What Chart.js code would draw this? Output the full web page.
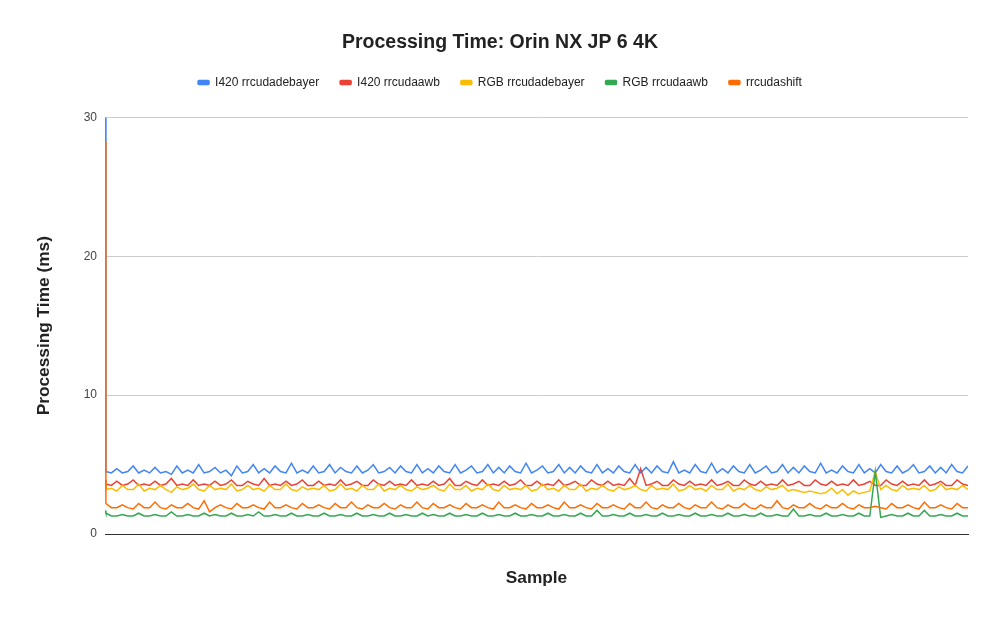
<!DOCTYPE html>
<html>
<head>
<meta charset="utf-8">
<script src="https://cdn.jsdelivr.net/npm/chart.js@4"></script>
<style>
  html, body { margin: 0; padding: 0; background: #fff; }
  #wrap { width: 1000px; height: 619px; }
</style>
</head>
<body>
<div id="wrap"><canvas id="chart" width="1000" height="619"></canvas></div>
<script>
const seriesNames = ["I420 rrcudadebayer", "I420 rrcudaawb", "RGB rrcudadebayer", "RGB rrcudaawb", "rrcudashift"];
const seriesColors = ["#4285F4", "#EA4335", "#FBBC04", "#34A853", "#FF6D01"];
const yTicks = [0, 10, 20, 30];

const i420Debayer = [
  30, 4.5, 4.4, 4.7, 4.4, 4.5, 4.9, 4.4, 4.6, 4.4, 4.8, 4.4, 4.5, 4.3, 4.9, 4.4, 4.6, 4.4, 5.0, 4.4,
  4.5, 4.8, 4.4, 4.6, 4.2, 4.9, 4.4, 4.5, 5.0, 4.4, 4.7, 4.4, 4.9, 4.5, 4.4, 5.1, 4.4, 4.6, 4.4, 4.9,
  4.4, 4.5, 5.0, 4.4, 4.8, 4.5, 4.4, 4.9, 4.4, 4.6, 5.0, 4.4, 4.5, 4.8, 4.4, 4.9, 4.5, 4.4, 5.0, 4.4,
  4.7, 4.4, 4.9, 4.5, 4.4, 5.0, 4.4, 4.6, 4.9, 4.4, 4.5, 5.0, 4.4, 4.8, 4.4, 4.9, 4.5, 4.4, 5.1, 4.4,
  4.6, 4.9, 4.4, 4.5, 5.0, 4.4, 4.8, 4.4, 4.9, 4.5, 4.4, 5.0, 4.4, 4.7, 4.4, 4.9, 4.5, 4.4, 5.0, 4.4,
  4.8, 4.4, 4.9, 4.5, 4.4, 5.2, 4.4, 4.6, 4.4, 5.0, 4.5, 4.4, 5.1, 4.4, 4.7, 4.4, 4.9, 4.5, 4.4, 5.0,
  4.4, 4.6, 4.9, 4.4, 4.5, 5.0, 4.4, 4.8, 4.4, 4.9, 4.5, 4.4, 5.1, 4.4, 4.6, 4.4, 4.9, 4.5, 4.4, 5.0,
  4.4, 4.7, 4.4, 5.0, 4.5, 4.4, 4.9, 4.4, 4.6, 5.0, 4.4, 4.5, 4.9, 4.4, 4.8, 4.4, 5.0, 4.5, 4.4, 4.9
];
const i420Awb = [
  3.9, 3.6, 3.5, 3.8, 3.5, 3.6, 3.9, 3.5, 3.6, 3.5, 3.8, 3.5, 3.6, 4.0, 3.5, 3.6, 3.5, 3.9, 3.5, 3.6,
  3.5, 3.8, 3.5, 3.6, 3.9, 3.5, 3.5, 3.8, 3.6, 3.5, 4.0, 3.5, 3.6, 3.5, 3.8, 3.5, 3.6, 3.9, 3.5, 3.5,
  3.8, 3.5, 3.6, 3.5, 3.9, 3.5, 3.6, 3.8, 3.5, 3.5, 3.9, 3.6, 3.5, 3.8, 3.5, 3.6, 3.5, 3.9, 3.5, 3.6,
  3.5, 3.8, 3.5, 3.6, 4.0, 3.5, 3.5, 3.8, 3.6, 3.5, 3.9, 3.5, 3.6, 3.5, 3.8, 3.5, 3.6, 3.9, 3.5, 3.5,
  3.8, 3.5, 3.6, 3.5, 3.9, 3.5, 3.6, 3.8, 3.5, 3.5, 3.9, 3.6, 3.5, 3.8, 3.5, 3.6, 3.5, 4.0, 3.5, 4.7,
  3.5, 3.6, 3.8, 3.5, 3.5, 3.9, 3.6, 3.5, 3.8, 3.5, 3.6, 3.5, 3.9, 3.5, 3.6, 3.8, 3.5, 3.5, 3.9, 3.6,
  3.5, 3.8, 3.5, 3.6, 3.5, 3.9, 3.5, 3.6, 3.8, 3.5, 3.5, 3.9, 3.6, 3.5, 3.8, 3.5, 3.6, 3.5, 3.9, 3.5,
  3.6, 3.8, 3.5, 3.5, 3.9, 3.6, 3.5, 3.8, 3.5, 3.6, 3.5, 3.9, 3.5, 3.6, 3.8, 3.5, 3.5, 3.9, 3.6, 3.5
];
const rgbDebayer = [
  3.6, 3.2, 3.3, 3.1, 3.5, 3.2, 3.2, 3.6, 3.1, 3.3, 3.2, 3.5, 3.2, 3.0, 3.4, 3.2, 3.3, 3.6, 3.2, 3.1,
  3.5, 3.2, 3.3, 3.2, 3.6, 3.1, 3.2, 3.5, 3.2, 3.3, 3.1, 3.5, 3.2, 3.2, 3.6, 3.2, 3.1, 3.4, 3.2, 3.3,
  3.2, 3.5, 3.1, 3.2, 3.6, 3.2, 3.3, 3.1, 3.5, 3.2, 3.2, 3.6, 3.1, 3.3, 3.2, 3.5, 3.2, 3.1, 3.4, 3.2,
  3.3, 3.5, 3.2, 3.1, 3.6, 3.2, 3.2, 3.5, 3.1, 3.3, 3.2, 3.6, 3.2, 3.1, 3.5, 3.2, 3.3, 3.2, 3.5, 3.1,
  3.2, 3.6, 3.2, 3.3, 3.1, 3.5, 3.2, 3.2, 3.6, 3.1, 3.3, 3.2, 3.5, 3.2, 3.1, 3.4, 3.2, 3.3, 3.5, 3.2,
  3.1, 3.5, 3.2, 3.3, 3.2, 3.6, 3.1, 3.2, 3.5, 3.2, 3.3, 3.1, 3.5, 3.2, 3.2, 3.6, 3.1, 3.3, 3.2, 3.5,
  3.2, 3.1, 3.4, 3.2, 3.3, 3.5, 3.1, 3.2, 3.1, 3.0, 3.1, 3.0, 2.9, 3.0, 3.3, 2.9, 3.2, 2.8, 3.1, 2.9,
  3.0, 3.1, 4.5, 3.2, 3.5, 3.2, 3.1, 3.5, 3.2, 3.3, 3.2, 3.5, 3.1, 3.2, 3.6, 3.2, 3.3, 3.2, 3.5, 3.2
];
const rgbAwb = [
  1.7, 1.5, 1.3, 1.3, 1.4, 1.3, 1.3, 1.5, 1.3, 1.3, 1.4, 1.3, 1.3, 1.6, 1.3, 1.3, 1.4, 1.3, 1.3, 1.5,
  1.3, 1.4, 1.3, 1.3, 1.5, 1.3, 1.3, 1.4, 1.3, 1.6, 1.3, 1.3, 1.4, 1.3, 1.3, 1.5, 1.3, 1.3, 1.4, 1.3,
  1.3, 1.5, 1.3, 1.3, 1.4, 1.3, 1.3, 1.5, 1.3, 1.3, 1.4, 1.3, 1.3, 1.5, 1.3, 1.3, 1.4, 1.3, 1.3, 1.5,
  1.3, 1.4, 1.3, 1.3, 1.5, 1.3, 1.3, 1.4, 1.3, 1.3, 1.5, 1.3, 1.3, 1.4, 1.3, 1.3, 1.5, 1.3, 1.3, 1.4,
  1.3, 1.3, 1.5, 1.3, 1.3, 1.4, 1.3, 1.3, 1.5, 1.3, 1.3, 1.7, 1.3, 1.3, 1.4, 1.3, 1.3, 1.5, 1.3, 1.3,
  1.4, 1.3, 1.3, 1.5, 1.3, 1.3, 1.4, 1.3, 1.3, 1.5, 1.3, 1.3, 1.4, 1.3, 1.3, 1.5, 1.3, 1.3, 1.4, 1.3,
  1.3, 1.5, 1.3, 1.3, 1.4, 1.3, 1.3, 1.8, 1.3, 1.3, 1.4, 1.3, 1.3, 1.5, 1.3, 1.3, 1.4, 1.3, 1.3, 1.5,
  1.3, 1.3, 4.5, 1.2, 1.3, 1.4, 1.3, 1.3, 1.5, 1.3, 1.3, 1.7, 1.3, 1.3, 1.4, 1.3, 1.3, 1.5, 1.3, 1.3
];
const shift = [
  28.3, 2.2, 1.9, 1.9, 2.1, 1.9, 1.8, 2.2, 1.9, 1.9, 2.3, 1.9, 1.8, 2.1, 1.9, 1.9, 2.2, 1.9, 1.8, 2.4,
  1.6, 1.9, 2.1, 1.9, 1.8, 2.2, 1.9, 1.9, 2.1, 1.9, 1.8, 2.3, 1.9, 1.9, 2.1, 1.9, 1.8, 2.2, 1.9, 1.9,
  2.1, 1.9, 1.8, 2.2, 1.9, 1.9, 2.3, 1.9, 1.8, 2.1, 1.9, 1.9, 2.2, 1.9, 1.8, 2.1, 1.9, 1.9, 2.3, 1.9,
  1.8, 2.2, 1.9, 1.9, 2.1, 1.9, 1.8, 2.2, 1.9, 1.9, 2.1, 1.9, 1.8, 2.3, 1.9, 1.9, 2.1, 1.9, 1.8, 2.2,
  1.9, 1.9, 2.1, 1.9, 1.8, 2.3, 1.9, 1.9, 2.1, 1.9, 1.8, 2.2, 1.9, 1.9, 2.1, 1.9, 1.8, 2.2, 1.9, 1.9,
  2.3, 1.9, 1.8, 2.1, 1.9, 1.9, 2.2, 1.9, 1.8, 2.1, 1.9, 1.9, 2.3, 1.9, 1.8, 2.1, 1.9, 1.9, 2.2, 1.9,
  1.8, 2.1, 1.9, 1.9, 2.4, 1.9, 1.8, 2.1, 1.9, 1.9, 2.2, 1.9, 1.8, 2.1, 1.9, 1.9, 2.2, 1.9, 1.8, 2.1,
  1.9, 1.9, 2.0, 1.9, 1.8, 2.2, 1.9, 1.9, 2.1, 1.9, 1.8, 2.3, 1.9, 1.9, 2.1, 1.9, 1.8, 2.2, 1.9, 1.9
];

const seriesValues = [i420Debayer, i420Awb, rgbDebayer, rgbAwb, shift];
const samples = i420Debayer.map((v, i) => i === 0 ? 0 : 1 + (i - 1) * 6);

const font = "'Liberation Sans', Arial, sans-serif";

const datasets = seriesNames.map((name, i) => ({
  label: name,
  data: seriesValues[i].map((v, j) => ({ x: samples[j], y: v })),
  borderColor: seriesColors[i],
  backgroundColor: seriesColors[i],
  borderWidth: 1.5,
  pointRadius: 0,
  tension: 0,
  // later series drawn on top, like the original
  order: seriesNames.length - i
}));

// extra room between the legend and the plot
const legendGap = {
  id: "legendGap",
  beforeInit(chart) {
    const fit = chart.legend.fit;
    chart.legend.fit = function () {
      fit.bind(chart.legend)();
      this.height += 19;
    };
  }
};

new Chart(document.getElementById("chart"), {
  type: "line",
  data: { datasets: datasets },
  plugins: [legendGap],
  options: {
    responsive: false,
    animation: false,
    layout: { padding: { left: 32, right: 32, top: 0, bottom: 0 } },
    plugins: {
      title: {
        display: true,
        text: "Processing Time: Orin NX JP 6 4K",
        color: "#222",
        font: { family: font, size: 19.5, weight: "bold" },
        padding: { top: 31, bottom: 1 }
      },
      legend: {
        position: "top",
        labels: {
          color: "#222",
          font: { family: font, size: 12 },
          boxWidth: 11,
          boxHeight: 4,
          useBorderRadius: true,
          borderRadius: 1,
          padding: 21,
          sort: (a, b) => a.datasetIndex - b.datasetIndex
        }
      },
      tooltip: { enabled: false }
    },
    scales: {
      x: {
        type: "linear",
        min: 0,
        max: samples[samples.length - 1],
        grid: { display: false, drawTicks: false },
        border: { display: true, color: "#333", width: 1 },
        ticks: { display: false },
        title: {
          display: true,
          text: "Sample",
          color: "#222",
          font: { family: font, size: 17.3, weight: "bold" },
          padding: { top: 33.6, bottom: 30.6 }
        }
      },
      y: {
        min: 0,
        max: 30,
        afterBuildTicks: (axis) => { axis.ticks = yTicks.map(v => ({ value: v })); },
        afterFit: (axis) => { axis.width = 73; },
        grid: { color: "#ccc", drawTicks: false },
        border: { display: false },
        ticks: {
          color: "#444",
          font: { family: font, size: 12 },
          padding: 8
        },
        title: {
          display: true,
          text: "Processing Time (ms)",
          color: "#222",
          font: { family: font, size: 17.3, weight: "bold" },
          padding: { top: 1.5, bottom: 0 }
        }
      }
    }
  }
});
</script>
</body>
</html>
